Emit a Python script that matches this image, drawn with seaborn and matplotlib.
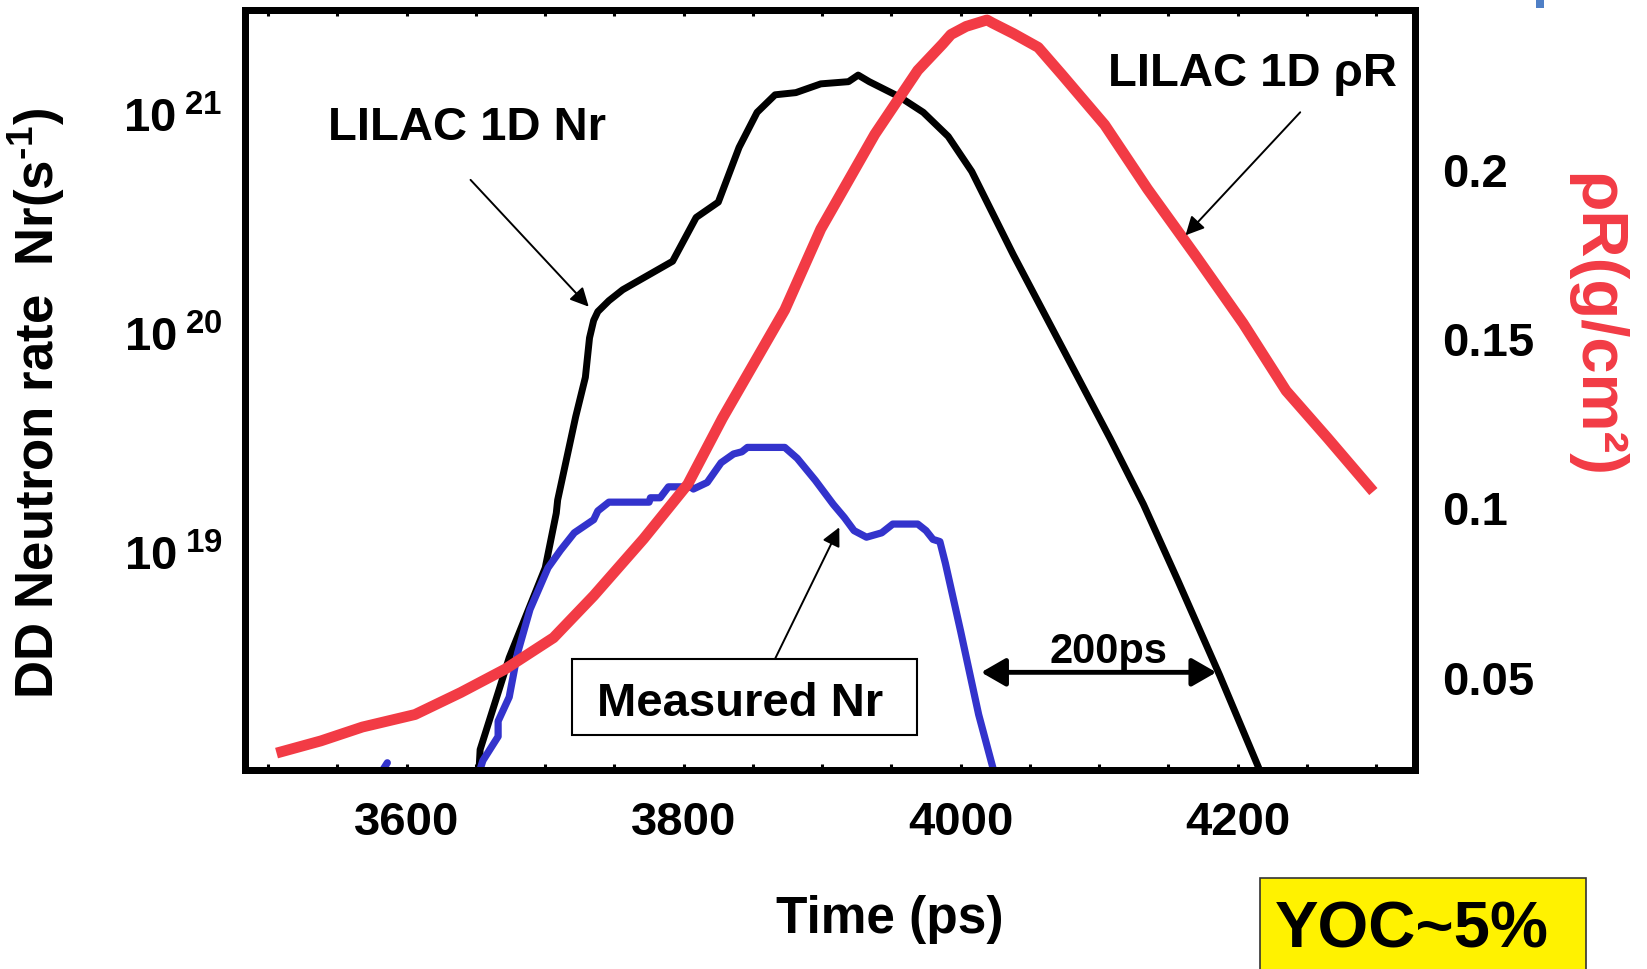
import numpy as np
import pandas as pd
import matplotlib
matplotlib.use("Agg")
import matplotlib.pyplot as plt
import seaborn as sns
from matplotlib import font_manager
from matplotlib.patches import Rectangle, ArrowStyle
from matplotlib.ticker import FixedLocator, MultipleLocator, NullLocator, FuncFormatter

# ---------------- data ----------------
lilac_nr_time = [3652, 3653, 3674, 3700, 3708, 3709, 3722, 3729, 3732, 3735, 3738,
                 3746, 3756, 3792, 3809, 3825, 3840, 3853, 3866, 3881, 3899, 3919,
                 3926, 3934, 3956, 3973, 3991, 4008, 4038, 4073, 4108, 4132, 4157,
                 4187, 4215, 4222]
lilac_nr_log10 = [17.98, 18.10, 18.52, 18.93, 19.18, 19.24, 19.62, 19.80, 19.98, 20.06, 20.10,
                  20.15, 20.20, 20.33, 20.53, 20.60, 20.85, 21.01, 21.09, 21.10, 21.14, 21.15,
                  21.18, 21.15, 21.08, 21.01, 20.90, 20.74, 20.36, 19.94, 19.52, 19.22, 18.87,
                  18.44, 18.02, 17.90]

measured_nr_time = [3652, 3655, 3661, 3666, 3666, 3674, 3680, 3689, 3702, 3711, 3721,
                    3735, 3738, 3746, 3775, 3776, 3783, 3789, 3805, 3807, 3817, 3827,
                    3836, 3842, 3846, 3873, 3882, 3895, 3908, 3916, 3923, 3932, 3943,
                    3951, 3969, 3975, 3980, 3985, 3989, 4000, 4013, 4024]
measured_nr_log10 = [17.99, 18.05, 18.11, 18.16, 18.23, 18.34, 18.54, 18.74, 18.93, 19.01, 19.09,
                     19.15, 19.19, 19.23, 19.23, 19.25, 19.25, 19.30, 19.30, 19.29, 19.32, 19.41,
                     19.45, 19.46, 19.48, 19.48, 19.43, 19.33, 19.22, 19.16, 19.10, 19.07, 19.09,
                     19.13, 19.13, 19.10, 19.06, 19.05, 18.95, 18.64, 18.26, 18.00]

measured_speck_time = [3581, 3586]
measured_speck_log10 = [17.99, 18.04]

lilac_rhoR_time = [3506, 3538, 3568, 3606, 3639, 3671, 3706, 3735, 3771, 3803, 3828,
                   3873, 3899, 3938, 3969, 3987, 3993, 4004, 4019, 4023, 4038, 4056,
                   4073, 4104, 4135, 4170, 4204, 4235, 4265, 4298]
lilac_rhoR = [0.0277, 0.0313, 0.0354, 0.0391, 0.0456, 0.0525, 0.0618, 0.0742, 0.0910, 0.1072, 0.1267,
              0.1587, 0.1826, 0.2106, 0.2295, 0.2373, 0.2401, 0.2425, 0.2444, 0.2435, 0.2404, 0.2363,
              0.2283, 0.2134, 0.1944, 0.1745, 0.1547, 0.1348, 0.1208, 0.1050]

x_ticks = [3600, 3800, 4000, 4200]
x_tick_labels = ["3600", "3800", "4000", "4200"]
nr_tick_exponents = [19, 20, 21]
rhoR_ticks = [0.05, 0.1, 0.15, 0.2]
rhoR_tick_labels = ["0.05", "0.1", "0.15", "0.2"]

RED = "#F23B45"
BLUE = "#3333CC"

# ---------------- style ----------------
sns.set_theme(style="white")
plt.rcParams["font.family"] = ["Liberation Sans", "DejaVu Sans"]
plt.rcParams["font.weight"] = "bold"
plt.rcParams["mathtext.fontset"] = "custom"
plt.rcParams["mathtext.rm"] = "Liberation Sans"
plt.rcParams["mathtext.bf"] = "Liberation Sans:bold"
plt.rcParams["mathtext.it"] = "Liberation Sans:italic"
plt.rcParams["mathtext.default"] = "regular"

names = {f.name for f in font_manager.fontManager.ttflist}
has_narrow = "Liberation Sans Narrow" in names
rho_label_family = ["Liberation Sans Narrow", "Liberation Sans", "DejaVu Sans"] if has_narrow else ["Liberation Sans", "DejaVu Sans"]
rho_label_size = 56 if has_narrow else 47

fig = plt.figure(figsize=(16.47, 9.69), dpi=100)
fig.patch.set_facecolor("white")
ax = fig.add_axes([0.14857, 0.20537, 0.71050, 0.78380])
ax.set_yscale("log")
ax2 = ax.twinx()

nr_df = pd.DataFrame({"t": lilac_nr_time, "nr": 10.0 ** np.array(lilac_nr_log10)})
meas_df = pd.DataFrame({"t": measured_nr_time, "nr": 10.0 ** np.array(measured_nr_log10)})
speck_df = pd.DataFrame({"t": measured_speck_time, "nr": 10.0 ** np.array(measured_speck_log10)})
rho_df = pd.DataFrame({"t": lilac_rhoR_time, "rho": lilac_rhoR})

sns.lineplot(data=nr_df, x="t", y="nr", ax=ax, color="black", linewidth=5.0,
             estimator=None, sort=False)
sns.lineplot(data=meas_df, x="t", y="nr", ax=ax, color=BLUE, linewidth=5.2,
             estimator=None, sort=False)
sns.lineplot(data=speck_df, x="t", y="nr", ax=ax, color=BLUE, linewidth=5.2,
             estimator=None, sort=False)
sns.lineplot(data=rho_df, x="t", y="rho", ax=ax2, color=RED, linewidth=7.8,
             estimator=None, sort=False, solid_capstyle="butt")

ax.set_xlim(3483, 4328)
ax.set_ylim(10 ** 18.007, 10 ** 21.475)
ax2.set_ylim(0.0227, 0.2472)

# ticks
ax.xaxis.set_major_locator(FixedLocator(x_ticks))
ax.set_xticklabels(x_tick_labels)
ax.xaxis.set_minor_locator(MultipleLocator(50))
ax.tick_params(axis="x", which="both", direction="in", bottom=True, top=True,
               length=4.5, width=2.2, color="black", labelsize=34, pad=22,
               labelcolor="black")
ax.yaxis.set_major_locator(FixedLocator([10.0 ** e for e in nr_tick_exponents]))
ax.yaxis.set_minor_locator(NullLocator())
ax.yaxis.set_major_formatter(FuncFormatter(lambda v, p: r"$10^{\;\mathrm{%d}}$" % round(np.log10(v))))
ax.tick_params(axis="y", which="both", direction="in", left=False, right=False,
               labelsize=34, pad=16, labelcolor="black")
ax2.set_yticks(rhoR_ticks)
ax2.set_yticklabels(rhoR_tick_labels)
ax2.tick_params(axis="y", which="both", direction="in", left=False, right=False,
                labelsize=34, pad=19.5, labelcolor="black")

for a in (ax, ax2):
    for s in a.spines.values():
        s.set_linewidth(5)
        s.set_color("black")

# axis labels
ax.set_xlabel("Time (ps)", fontsize=37, fontweight="bold", color="black")
ax.xaxis.set_label_coords(0.5515, -0.2146)
ax.xaxis.label.set_va("baseline")

ax.set_ylabel(r"DD Neutron rate  Nr(s$^{\text{-1}}$)", fontsize=38, fontweight="bold", color="black")
ax.yaxis.set_label_coords(-0.163, 0.482)
ax.yaxis.label.set_va("baseline")

ax2.set_ylabel("ρR(g/cm²)", fontsize=rho_label_size, fontweight="bold", color=RED,
               rotation=270, family=rho_label_family)
ax2.yaxis.set_label_coords(1.1394, 0.5859)
ax2.yaxis.label.set_va("baseline")
ax2.yaxis.label.set_ha("center")
ax2.yaxis.label.set_rotation_mode("anchor")

# annotations
thin = dict(arrowstyle=ArrowStyle("-|>", head_length=0.4, head_width=0.2),
            color="black", lw=1.4, mutation_scale=28, shrinkA=0, shrinkB=0)
ax2.text(0.1903, 0.830, "LILAC 1D Nr", transform=ax2.transAxes, fontsize=34,
         fontweight="bold", ha="center", va="baseline", color="black")
ax2.annotate("", xy=(0.294, 0.610), xytext=(0.193, 0.777), xycoords="axes fraction",
             textcoords="axes fraction", arrowprops=thin)

ax2.text(0.8609, 0.9004, "LILAC 1D ρR", transform=ax2.transAxes, fontsize=34,
         fontweight="bold", ha="center", va="baseline", color="black")
ax2.annotate("", xy=(0.804, 0.704), xytext=(0.902, 0.866), xycoords="axes fraction",
             textcoords="axes fraction", arrowprops=thin)

ax2.add_patch(Rectangle((0.2801, 0.0456), 0.2944, 0.1010, transform=ax2.transAxes,
                        facecolor="white", edgecolor="black", lw=1.5, zorder=5))
ax2.text(0.4237, 0.0705, "Measured Nr", transform=ax2.transAxes, fontsize=34,
         fontweight="bold", ha="center", va="baseline", color="black", zorder=6)
ax2.annotate("", xy=(0.5081, 0.3195), xytext=(0.4533, 0.1466), xycoords="axes fraction",
             textcoords="axes fraction", arrowprops=thin)

ax2.text(0.7379, 0.141, "200ps", transform=ax2.transAxes, fontsize=30,
         fontweight="bold", ha="center", va="baseline", color="black")
ax2.annotate("", xy=(0.8303, 0.1286), xytext=(0.6293, 0.1286), xycoords="axes fraction",
             textcoords="axes fraction",
             arrowprops=dict(arrowstyle=ArrowStyle("<|-|>", head_length=0.4, head_width=0.23),
                             color="black", lw=3.5, mutation_scale=37, shrinkA=0, shrinkB=0))

# YOC box (figure coordinates)
fig.add_artist(Rectangle((1260 / 1647, -0.02), (1586 - 1260) / 1647, 0.02 + (969 - 878) / 969,
                         transform=fig.transFigure, facecolor="#FFF200",
                         edgecolor="#333333", lw=1.2))
fig.text(0.8573, 0.0217, "YOC~5%", fontsize=47, fontweight="bold", ha="center",
         va="baseline", color="black")

# small blue mark at the top-right corner of the slide
fig.add_artist(Rectangle((1536 / 1647, 1 - 8 / 969), 8 / 1647, 8 / 969,
                         transform=fig.transFigure, facecolor="#4F7FC6", edgecolor="none"))

fig.savefig("out.png", dpi=100)
